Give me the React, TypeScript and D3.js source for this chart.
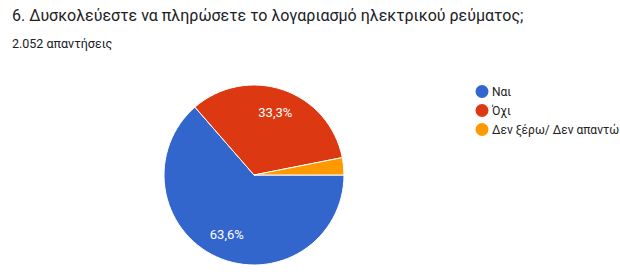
import React from "react";
import * as d3 from "d3";

const categories = ["Ναι", "Όχι", "Δεν ξέρω/ Δεν απαντώ"];
const percentages = [63.6, 33.3, 3.1];
const colors = ["#3366cc", "#dc3912", "#ff9900"];
const title = "6. Δυσκολεύεστε να πληρώσετε το λογαριασμό ηλεκτρικού ρεύματος;";
const subtitle = "2.052 απαντήσεις";

const W = 620;
const H = 275;

export default function App() {
  const cx = 254;
  const cy = 175;
  const r = 90;
  const data = categories.map((c, i) => ({ c, v: percentages[i], color: colors[i] }));
  const pie = d3
    .pie<any>()
    .value((d) => d.v)
    .sort(null)
    .startAngle(Math.PI / 2)
    .endAngle(Math.PI / 2 + 2 * Math.PI);
  const arcs = pie(data);
  const arc = d3.arc<any>().innerRadius(0).outerRadius(r);
  const labelArc = d3.arc<any>().innerRadius(r * 0.73).outerRadius(r * 0.73);
  const fmt = (v: number) => v.toFixed(1).replace(".", ",") + "%";
  const legendY = d3.scalePoint<string>().domain(categories).range([91.5, 129.5]);

  return (
    <svg
      width={W}
      height={H}
      style={{ position: "absolute", left: 0, top: 0, background: "#fff" }}
      fontFamily="Roboto, Arial, sans-serif"
    >
      <rect width={W} height={H} fill="#fff" />
      <text x={12} y={21} fontSize={16} fill="#202124">
        {title}
      </text>
      <text x={12} y={48} fontSize={12.5} fill="#202124">
        {subtitle}
      </text>
      <g transform={`translate(${cx},${cy})`}>
        {arcs.map((a, i) => (
          <path key={i} d={arc(a) as string} fill={a.data.color} stroke="#fff" strokeWidth={1} />
        ))}
        {arcs.map((a, i) => {
          if (a.data.v < 5) return null;
          const [x, y] = labelArc.centroid(a);
          return (
            <text
              key={"l" + i}
              x={x}
              y={y}
              textAnchor="middle"
              dominantBaseline="central"
              fontSize={13}
              fill="#fff"
            >
              {fmt(a.data.v)}
            </text>
          );
        })}
      </g>
      {categories.map((c, i) => (
        <g key={c}>
          <circle cx={482} cy={legendY(c)} r={6.5} fill={colors[i]} />
          <text x={492} y={(legendY(c) as number) + 4.5} fontSize={12} fill="#222">
            {c}
          </text>
        </g>
      ))}
    </svg>
  );
}
